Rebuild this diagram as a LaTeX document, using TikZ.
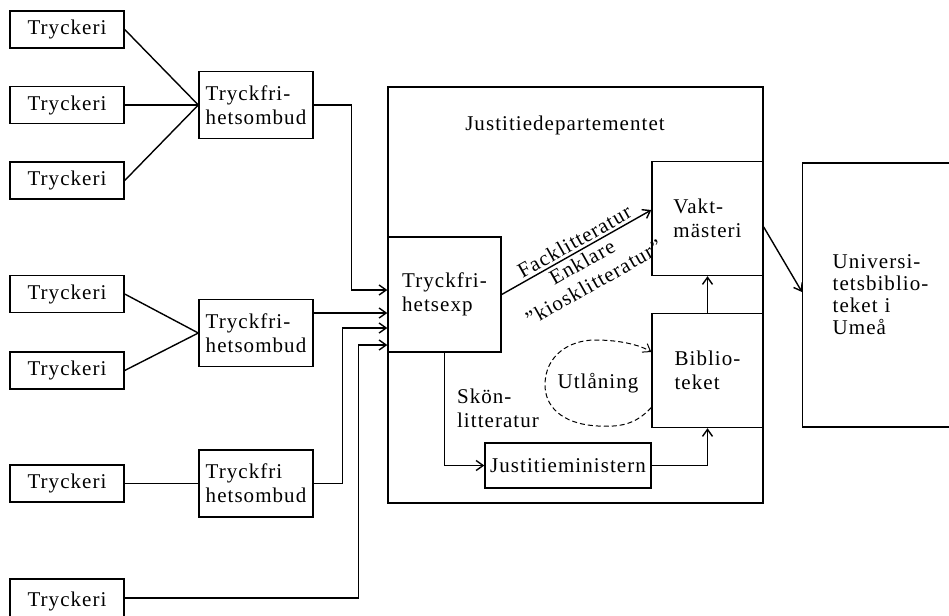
\documentclass[tikz,border=0pt]{standalone}
\usepackage{fontspec}
\setmainfont{Liberation Serif}[LetterSpace=5]
\usetikzlibrary{arrows.meta,positioning,calc}
\tikzset{
  blk/.style={draw,rectangle,line width=0.7pt,align=left,inner sep=2pt},
  prtblk/.style={blk,align=center,minimum width=57pt,minimum height=18.5pt},
  ombblk/.style={blk,minimum width=57pt,minimum height=33.5pt},
  depblk/.style={blk,minimum width=55.5pt,minimum height=57pt},
  arr/.style={-{Straight Barb[length=3.5pt,width=5pt]},line width=0.7pt},
  ln/.style={line width=0.7pt},
  loan/.style={arr,dash pattern=on 2.5pt off 1.5pt,line width=0.5pt},
  lbl/.style={align=left,inner sep=1pt}
}

\begin{document}
\begin{tikzpicture}[x=0.5pt,y=-0.5pt,every node/.style={font=\fontsize{10.5}{12}\selectfont}]
  \useasboundingbox (0,0) rectangle (949,616);

  % tryckerier
  \node[prtblk] (tr1) at (67,29.5) {Tryckeri};
  \node[prtblk] (tr2) at (67,105) {Tryckeri};
  \node[prtblk] (tr3) at (67,180.5) {Tryckeri};
  \node[prtblk] (tr4) at (67,294) {Tryckeri};
  \node[prtblk] (tr5) at (67,370.5) {Tryckeri};
  \node[prtblk] (tr6) at (67,483.5) {Tryckeri};
  \node[prtblk,minimum height=22pt] (tr7) at (67,601) {Tryckeri};

  % ombud
  \node[ombblk] (omb1) at (256,105) {Tryckfri-\\hetsombud};
  \node[ombblk] (omb2) at (256,333) {Tryckfri-\\hetsombud};
  \node[ombblk] (omb3) at (256,483.5) {Tryckfri\\hetsombud};

  % departementet
  \node[draw,line width=0.7pt,minimum width=187.5pt,minimum height=208pt] (jdep) at (575.5,295) {};
  \node (jdeplbl) at (565,125) {Justitiedepartementet};
  \node[blk,minimum width=56.5pt,minimum height=57.5pt] (tfexp) at (444.5,294.5) {Tryckfri-\\hetsexp};
  \node[depblk] (vakt) at (707.5,218.5) {Vakt-\\mästeri};
  \node[depblk] (bib) at (707.5,370.5) {Biblio-\\teket};
  \node[blk,minimum width=83pt,minimum height=22.5pt] (jmin) at (568,465.5) {Justitieministern};
  \node[lbl] (skon) at (498,408) {Skön-\\litteratur};
  \node[lbl] (utl) at (598,383) {Utlåning};

  \node[blk,anchor=west,minimum height=132pt,text width=64pt,inner xsep=15pt,
        font=\fontsize{10.5}{11}\selectfont] (univ) at (802,295) {Universi-\\tetsbiblio-\\teket i\\Umeå};

  \coordinate (in1) at ([yshift=2.25pt]tfexp.west);
  \coordinate (in2) at ([yshift=-9.25pt]tfexp.west);
  \coordinate (in3) at ([yshift=-16.75pt]tfexp.west);
  \coordinate (in4) at ([yshift=-25.25pt]tfexp.west);

  \draw[ln] (tr1.east) -- (omb1.west);
  \draw[ln] (tr2.east) -- (omb1.west);
  \draw[ln] (tr3.east) -- (omb1.west);
  \draw[ln] (tr4.east) -- (omb2.west);
  \draw[ln] (tr5.east) -- (omb2.west);
  \draw[ln] (tr6.east) -- (omb3.west);

  \draw[arr] (omb1.east) -- ++(38,0) |- (in1);
  \draw[arr] (omb2.east |- in2) -- (in2);
  \draw[arr] (omb3.east) -- ++(29,0) |- (in3);
  \draw[arr] ([yshift=1.5pt]tr7.east) -- ++(234,0) |- (in4);

  \draw[arr] (tfexp.east) -- node[sloped,above,inner sep=1.2pt,pos=0.52] {Facklitteratur}
    node[sloped,below,align=center,inner sep=1.5pt,pos=0.5] {Enklare\\''kiosklitteratur''}
    ([yshift=4.25pt]vakt.west);
  \draw[arr] (bib.north) -- (vakt.south);
  \draw[arr] (tfexp.south) |- (jmin.west);
  \draw[arr] (jmin.east) -| (bib.south);
  \draw[arr] ([yshift=-4.25pt]vakt.east) -- ([yshift=1.5pt]univ.west);

  \draw[loan] ([yshift=-18.5pt]bib.west) .. controls (635,425) and (620,427) .. (598,426)
    .. controls (560,424) and (545,405) .. (545,385)
    .. controls (545,355) and (570,340) .. (595,340)
    .. controls (620,340) and (640,345) .. ([yshift=9.25pt]bib.west);
\end{tikzpicture}
\end{document}
